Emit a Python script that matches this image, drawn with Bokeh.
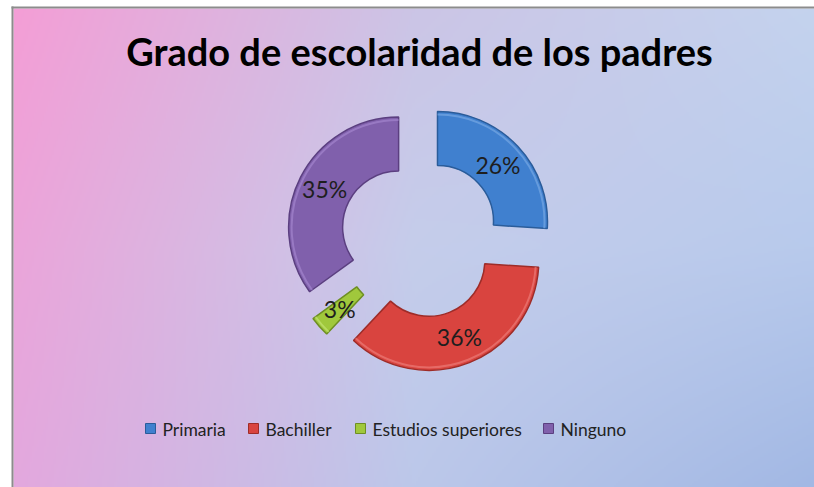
import numpy as np
from bokeh.plotting import figure
from bokeh.models import ColumnDataSource, BoxAnnotation, Range1d
from bokeh.core.properties import value
from bokeh.embed import file_html
from bokeh.resources import INLINE

# ---- data ----
title_text = "Grado de escolaridad de los padres"
categories = ["Primaria", "Bachiller", "Estudios superiores", "Ninguno"]
percentages = [26, 36, 3, 35]
label_texts = ["26%", "36%", "3%", "35%"]

# ---- styles ----
colors = ["#4080CF", "#D9443F", "#A0C83C", "#8060AC"]
edge_colors = ["#2A5C9A", "#9E2C28", "#6E8F22", "#5B3F80"]
light_colors = ["#7FAEE6", "#EE8480", "#C8E87A", "#A98AD2"]

W, H = 814, 487
p = figure(width=W, height=H, x_range=Range1d(0, W), y_range=Range1d(0, H),
           output_backend="svg", toolbar_location=None, min_border=0,
           x_axis_location=None, y_axis_location=None)
p.grid.visible = False
p.outline_line_color = None
p.background_fill_color = "white"
p.border_fill_color = "white"

# ---- gradient background ----
grid = np.array([
    [[0xF4, 0x9E, 0xD6], [0xCC, 0xC5, 0xE6], [0xC4, 0xD3, 0xEE]],
    [[0xEB, 0xA5, 0xDA], [0xC5, 0xCD, 0xEB], [0xB8, 0xCA, 0xEC]],
    [[0xE3, 0xA8, 0xDE], [0xBC, 0xC8, 0xEA], [0xA2, 0xB8, 0xE4]],
], dtype=float)


def interp3(t, a, b, c):
    return np.where(t < 0.5, a + (b - a) * t * 2, b + (c - b) * (t - 0.5) * 2)


gw, gh = 400, 240
tx = np.linspace(0, 1, gw)[:, None]
ty = np.linspace(0, 1, gh)[:, None, None]
rows = [interp3(tx, grid[r, 0], grid[r, 1], grid[r, 2]) for r in range(3)]
rgb = interp3(ty, rows[0][None], rows[1][None], rows[2][None])
img = np.empty((gh, gw), dtype=np.uint32)
view = img.view(dtype=np.uint8).reshape((gh, gw, 4))
view[..., 0] = np.clip(rgb[..., 0], 0, 255).astype(np.uint8)
view[..., 1] = np.clip(rgb[..., 1], 0, 255).astype(np.uint8)
view[..., 2] = np.clip(rgb[..., 2], 0, 255).astype(np.uint8)
view[..., 3] = 255
img = img[::-1]
p.image_rgba(image=[img], x=13, y=0, dw=W - 13, dh=H - 8)

p.add_layout(BoxAnnotation(left=11, right=13, bottom=0, top=H - 6, fill_color="#8C8C8C",
                           fill_alpha=1, line_color=None))
p.add_layout(BoxAnnotation(left=11, right=W, bottom=H - 8, top=H - 6, fill_color="#8C8C8C",
                           fill_alpha=1, line_color=None))

# ---- donut ----
fr = np.array(percentages, dtype=float) / sum(percentages)
cum_end = np.cumsum(fr)
cum_start = cum_end - fr
start = np.pi / 2 - 2 * np.pi * cum_end
end = np.pi / 2 - 2 * np.pi * cum_start
mid = (start + end) / 2
cx0, cy0 = 419.5, 249.5
explode = 24
r_in, r_out = 56, 110
wx = cx0 + explode * np.cos(mid)
wy = cy0 + explode * np.sin(mid)
r_lab = (r_in + r_out) / 2
src = ColumnDataSource(dict(
    x=wx, y=wy, start=start, end=end, color=colors, edge=edge_colors,
    light=light_colors,
    lx=wx + r_lab * np.cos(mid), ly=wy + r_lab * np.sin(mid), label=label_texts,
))
p.annular_wedge(x="x", y="y", inner_radius=r_in, outer_radius=r_out,
                inner_radius_units="screen", outer_radius_units="screen",
                start_angle="start", end_angle="end", fill_color="color",
                line_color="edge", line_width=1.5, source=src)
# subtle bevel highlight along the outer rim
p.arc(x="x", y="y", radius=r_out - 3, radius_units="screen",
      start_angle="start", end_angle="end", line_color="light",
      line_width=2, line_alpha=0.6, source=src)
p.text(x="lx", y="ly", text="label", source=src, text_font=value("Lato"),
       text_font_size="23px", text_align="center", text_baseline="middle",
       text_color="#1E1E1E")

# ---- title ----
p.text(x=[419], y=[437], text=[title_text], text_font=value("Lato"),
       text_font_style="bold", text_font_size="38px", text_align="center",
       text_baseline="middle", text_color="#000000")

# ---- legend ----
leg_x = np.array([150, 253, 360, 548], dtype=float)
leg_src = ColumnDataSource(dict(x=leg_x, y=[59] * 4, tx=leg_x + 12, ty=[58] * 4,
                                color=colors, edge=edge_colors, label=categories))
p.scatter(x="x", y="y", marker="square", size=10, fill_color="color",
          line_color="edge", line_width=1, source=leg_src)
p.text(x="tx", y="ty", text="label", source=leg_src, text_font=value("Lato"),
       text_font_size="17.5px", text_align="left", text_baseline="middle",
       text_color="#222222")

open("out.html", "w").write(file_html(p, INLINE))
